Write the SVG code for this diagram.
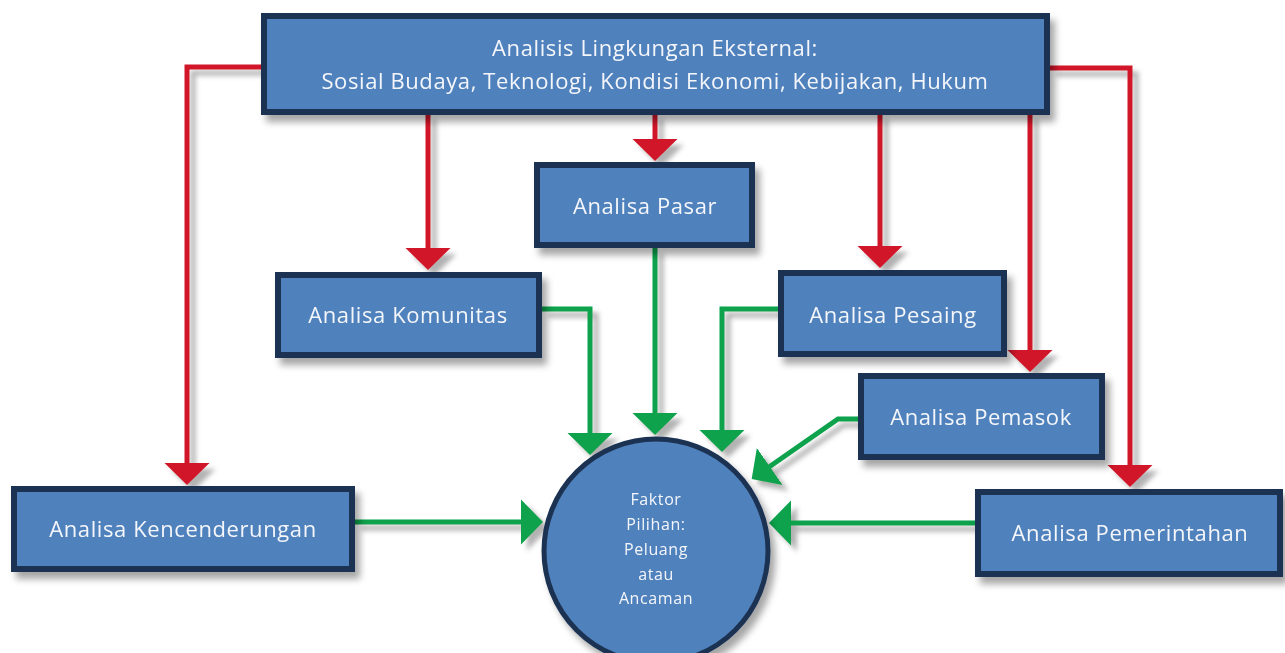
<svg xmlns="http://www.w3.org/2000/svg" width="1285" height="653" viewBox="0 0 1285 653">
<defs>
<filter id="sh" x="-20%" y="-20%" width="150%" height="160%">
<feDropShadow dx="5" dy="7" stdDeviation="3.5" flood-color="#000" flood-opacity="0.35"/>
</filter>
<filter id="lsh" x="-50%" y="-50%" width="200%" height="200%">
<feDropShadow dx="6" dy="6" stdDeviation="2.5" flood-color="#555" flood-opacity="0.45"/>
</filter>
<marker id="ar" markerUnits="userSpaceOnUse" markerWidth="24" markerHeight="46" refX="7" refY="23" orient="auto" viewBox="0 0 24 46">
<path d="M0,0.5 L22,23 L0,45.5 z" fill="#d2182b"/>
</marker>
<marker id="ag" markerUnits="userSpaceOnUse" markerWidth="24" markerHeight="46" refX="7" refY="23" orient="auto" viewBox="0 0 24 46">
<path d="M0,0.5 L22,23 L0,45.5 z" fill="#08a24c"/>
</marker>
</defs>
<style>
.box{fill:#4f81bd;stroke:#1d3352;stroke-width:6;}
.t{font-family:"Open Sans",Lato,"Liberation Sans",sans-serif;fill:#f4f6fa;text-anchor:middle;font-size:22px;letter-spacing:0.6px;}
.tc{font-family:"Open Sans",Lato,"Liberation Sans",sans-serif;fill:#f4f6fa;text-anchor:middle;font-size:16px;letter-spacing:0.6px;}
.r{fill:none;stroke:#d2182b;stroke-width:5;marker-end:url(#ar);}
.g{fill:none;stroke:#08a24c;stroke-width:5;marker-end:url(#ag);}
</style>
<rect width="1285" height="653" fill="#ffffff"/>
<g id="connectors" filter="url(#lsh)">
<path class="r" d="M261,67 H187 V470"/>
<path class="r" d="M428,114 V255"/>
<path class="r" d="M655,114 V146"/>
<path class="r" d="M880,114 V253"/>
<path class="r" d="M1030,114 V357"/>
<path class="r" d="M1050,68 H1130 V472"/>
<path class="g" d="M542,309 H590 V440"/>
<path class="g" d="M655,248 V420"/>
<path class="g" d="M778,309 H722 V437"/>
<path class="g" d="M858,419 H838 L764,470.5"/>
<path class="g" d="M355,522 H528"/>
<path class="g" d="M975,523 H784"/>
</g>
<g id="node-eksternal" filter="url(#sh)">
<rect class="box" x="264" y="16" width="783" height="96"/>
<text class="t" x="655" y="56" font-size="23">Analisis Lingkungan Eksternal:</text>
<text class="t" x="655" y="89" font-size="23">Sosial Budaya, Teknologi, Kondisi Ekonomi, Kebijakan, Hukum</text>
</g>
<g id="node-pasar" filter="url(#sh)">
<rect class="box" x="537" y="165" width="215" height="80"/>
<text class="t" x="645" y="214">Analisa Pasar</text>
</g>
<g id="node-komunitas" filter="url(#sh)">
<rect class="box" x="278" y="275" width="261" height="80"/>
<text class="t" x="408" y="323">Analisa Komunitas</text>
</g>
<g id="node-pesaing" filter="url(#sh)">
<rect class="box" x="781" y="273" width="223" height="81"/>
<text class="t" x="893" y="323">Analisa Pesaing</text>
</g>
<g id="node-pemasok" filter="url(#sh)">
<rect class="box" x="861" y="376" width="241" height="81"/>
<text class="t" x="981" y="425">Analisa Pemasok</text>
</g>
<g id="node-kencenderungan" filter="url(#sh)">
<rect class="box" x="14" y="489" width="338" height="80"/>
<text class="t" x="183" y="537">Analisa Kencenderungan</text>
</g>
<g id="node-pemerintahan" filter="url(#sh)">
<rect class="box" x="978" y="492" width="302" height="82"/>
<text class="t" x="1130" y="541">Analisa Pemerintahan</text>
</g>
<g id="node-faktor" filter="url(#sh)">
<circle cx="656" cy="551" r="112" fill="#4f81bd" stroke="#1d3352" stroke-width="5"/>
<text class="tc" x="656" y="505">Faktor</text>
<text class="tc" x="656" y="530">Pilihan:</text>
<text class="tc" x="656" y="555">Peluang</text>
<text class="tc" x="656" y="580">atau</text>
<text class="tc" x="656" y="604">Ancaman</text>
</g>
</svg>
